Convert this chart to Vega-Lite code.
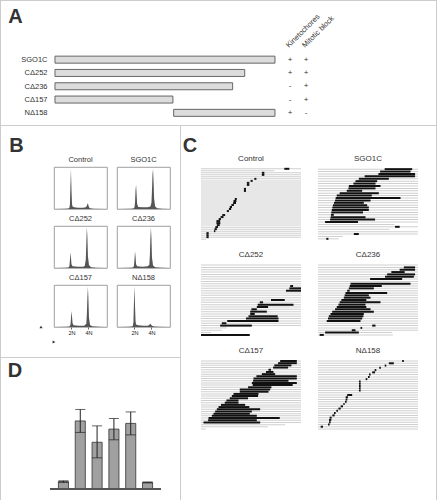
{
"$schema": "https://vega.github.io/schema/vega-lite/v6.json",
"padding": 0,
"background": "white",
"spacing": 0,
"config": {
 "font": "Liberation Sans",
 "view": {"stroke": null},
 "axis": {"labelColor": "#222", "titleColor": "#333", "domainColor": "#999", "tickColor": "#999", "labelFont": "Liberation Sans", "titleFont": "Liberation Sans", "titleFontWeight": "normal", "grid": false, "labelOverlap": false, "labelSeparation": 0, "labelFlush": false, "labelBound": false},
 "title": {"font": "Liberation Sans", "color": "#333", "fontWeight": "normal", "fontSize": 8}
},
"datasets": {
 "constructs": [
  {"construct": "SGO1C", "from": 1, "to": 292},
  {"construct": "CΔ252", "from": 1, "to": 252},
  {"construct": "CΔ236", "from": 1, "to": 236},
  {"construct": "CΔ157", "from": 1, "to": 157},
  {"construct": "NΔ158", "from": 158, "to": 292}
 ],
 "signs": [
  {"construct": "SGO1C", "assay": "Kinetochores", "result": "+"},
  {"construct": "SGO1C", "assay": "Mitotic block", "result": "+"},
  {"construct": "CΔ252", "assay": "Kinetochores", "result": "+"},
  {"construct": "CΔ252", "assay": "Mitotic block", "result": "+"},
  {"construct": "CΔ236", "assay": "Kinetochores", "result": "-"},
  {"construct": "CΔ236", "assay": "Mitotic block", "result": "+"},
  {"construct": "CΔ157", "assay": "Kinetochores", "result": "-"},
  {"construct": "CΔ157", "assay": "Mitotic block", "result": "+"},
  {"construct": "NΔ158", "assay": "Kinetochores", "result": "+"},
  {"construct": "NΔ158", "assay": "Mitotic block", "result": "-"}
 ],
 "mt": [
  {"construct": "-", "mean": 45, "lo": 40, "hi": 50},
  {"construct": "SGO1C", "mean": 415, "lo": 345, "hi": 485},
  {"construct": "CΔ252", "mean": 285, "lo": 190, "hi": 385},
  {"construct": "CΔ236", "mean": 365, "lo": 300, "hi": 430},
  {"construct": "CΔ157", "mean": 400, "lo": 330, "hi": 470},
  {"construct": "NΔ158", "mean": 40, "lo": 37, "hi": 43}
 ],
 "hist": [
  {"sample": "Control", "dna": 0, "count": 0}, {"sample": "Control", "dna": 20, "count": 0.5}, {"sample": "Control", "dna": 27, "count": 1}, {"sample": "Control", "dna": 29, "count": 3}, {"sample": "Control", "dna": 30, "count": 10}, {"sample": "Control", "dna": 31, "count": 55}, {"sample": "Control", "dna": 32, "count": 95}, {"sample": "Control", "dna": 33, "count": 45}, {"sample": "Control", "dna": 34, "count": 12}, {"sample": "Control", "dna": 35, "count": 6}, {"sample": "Control", "dna": 38, "count": 4}, {"sample": "Control", "dna": 45, "count": 3}, {"sample": "Control", "dna": 55, "count": 3}, {"sample": "Control", "dna": 60, "count": 4}, {"sample": "Control", "dna": 62, "count": 8}, {"sample": "Control", "dna": 63, "count": 12}, {"sample": "Control", "dna": 64, "count": 13}, {"sample": "Control", "dna": 65, "count": 9}, {"sample": "Control", "dna": 66, "count": 4}, {"sample": "Control", "dna": 68, "count": 1.5}, {"sample": "Control", "dna": 75, "count": 0.5}, {"sample": "Control", "dna": 100, "count": 0},
  {"sample": "SGO1C", "dna": 0, "count": 0}, {"sample": "SGO1C", "dna": 25, "count": 0.5}, {"sample": "SGO1C", "dna": 31, "count": 1}, {"sample": "SGO1C", "dna": 33, "count": 4}, {"sample": "SGO1C", "dna": 34, "count": 15}, {"sample": "SGO1C", "dna": 35, "count": 45}, {"sample": "SGO1C", "dna": 36, "count": 58}, {"sample": "SGO1C", "dna": 37, "count": 35}, {"sample": "SGO1C", "dna": 38, "count": 12}, {"sample": "SGO1C", "dna": 40, "count": 5}, {"sample": "SGO1C", "dna": 48, "count": 4}, {"sample": "SGO1C", "dna": 58, "count": 4}, {"sample": "SGO1C", "dna": 63, "count": 6}, {"sample": "SGO1C", "dna": 65, "count": 15}, {"sample": "SGO1C", "dna": 66, "count": 45}, {"sample": "SGO1C", "dna": 67, "count": 82}, {"sample": "SGO1C", "dna": 68, "count": 95}, {"sample": "SGO1C", "dna": 69, "count": 65}, {"sample": "SGO1C", "dna": 70, "count": 25}, {"sample": "SGO1C", "dna": 72, "count": 6}, {"sample": "SGO1C", "dna": 76, "count": 1.5}, {"sample": "SGO1C", "dna": 85, "count": 0.5}, {"sample": "SGO1C", "dna": 100, "count": 0},
  {"sample": "CΔ252", "dna": 0, "count": 0}, {"sample": "CΔ252", "dna": 20, "count": 0.5}, {"sample": "CΔ252", "dna": 27, "count": 1}, {"sample": "CΔ252", "dna": 29, "count": 4}, {"sample": "CΔ252", "dna": 30, "count": 18}, {"sample": "CΔ252", "dna": 31, "count": 37}, {"sample": "CΔ252", "dna": 32, "count": 25}, {"sample": "CΔ252", "dna": 33, "count": 9}, {"sample": "CΔ252", "dna": 35, "count": 4}, {"sample": "CΔ252", "dna": 45, "count": 3}, {"sample": "CΔ252", "dna": 55, "count": 3}, {"sample": "CΔ252", "dna": 58, "count": 5}, {"sample": "CΔ252", "dna": 60, "count": 20}, {"sample": "CΔ252", "dna": 61, "count": 60}, {"sample": "CΔ252", "dna": 62, "count": 97}, {"sample": "CΔ252", "dna": 63, "count": 75}, {"sample": "CΔ252", "dna": 64, "count": 28}, {"sample": "CΔ252", "dna": 66, "count": 7}, {"sample": "CΔ252", "dna": 70, "count": 2}, {"sample": "CΔ252", "dna": 80, "count": 0.5}, {"sample": "CΔ252", "dna": 100, "count": 0},
  {"sample": "CΔ236", "dna": 0, "count": 0}, {"sample": "CΔ236", "dna": 22, "count": 0.5}, {"sample": "CΔ236", "dna": 30, "count": 1}, {"sample": "CΔ236", "dna": 32, "count": 5}, {"sample": "CΔ236", "dna": 33, "count": 20}, {"sample": "CΔ236", "dna": 34, "count": 40}, {"sample": "CΔ236", "dna": 35, "count": 27}, {"sample": "CΔ236", "dna": 36, "count": 9}, {"sample": "CΔ236", "dna": 38, "count": 4}, {"sample": "CΔ236", "dna": 48, "count": 3}, {"sample": "CΔ236", "dna": 58, "count": 4}, {"sample": "CΔ236", "dna": 61, "count": 8}, {"sample": "CΔ236", "dna": 62, "count": 30}, {"sample": "CΔ236", "dna": 63, "count": 70}, {"sample": "CΔ236", "dna": 64, "count": 97}, {"sample": "CΔ236", "dna": 65, "count": 70}, {"sample": "CΔ236", "dna": 66, "count": 25}, {"sample": "CΔ236", "dna": 68, "count": 6}, {"sample": "CΔ236", "dna": 72, "count": 1.5}, {"sample": "CΔ236", "dna": 85, "count": 0.5}, {"sample": "CΔ236", "dna": 100, "count": 0},
  {"sample": "CΔ157", "dna": 0, "count": 0}, {"sample": "CΔ157", "dna": 22, "count": 0.5}, {"sample": "CΔ157", "dna": 29, "count": 1}, {"sample": "CΔ157", "dna": 31, "count": 5}, {"sample": "CΔ157", "dna": 32, "count": 20}, {"sample": "CΔ157", "dna": 33, "count": 38}, {"sample": "CΔ157", "dna": 34, "count": 25}, {"sample": "CΔ157", "dna": 35, "count": 9}, {"sample": "CΔ157", "dna": 37, "count": 4}, {"sample": "CΔ157", "dna": 47, "count": 3}, {"sample": "CΔ157", "dna": 57, "count": 3}, {"sample": "CΔ157", "dna": 61, "count": 8}, {"sample": "CΔ157", "dna": 62, "count": 30}, {"sample": "CΔ157", "dna": 63, "count": 70}, {"sample": "CΔ157", "dna": 64, "count": 96}, {"sample": "CΔ157", "dna": 65, "count": 65}, {"sample": "CΔ157", "dna": 66, "count": 22}, {"sample": "CΔ157", "dna": 68, "count": 5}, {"sample": "CΔ157", "dna": 72, "count": 1.5}, {"sample": "CΔ157", "dna": 85, "count": 0.5}, {"sample": "CΔ157", "dna": 100, "count": 0},
  {"sample": "NΔ158", "dna": 0, "count": 0}, {"sample": "NΔ158", "dna": 20, "count": 0.5}, {"sample": "NΔ158", "dna": 28, "count": 1}, {"sample": "NΔ158", "dna": 30, "count": 3}, {"sample": "NΔ158", "dna": 31, "count": 12}, {"sample": "NΔ158", "dna": 32, "count": 60}, {"sample": "NΔ158", "dna": 33, "count": 97}, {"sample": "NΔ158", "dna": 34, "count": 50}, {"sample": "NΔ158", "dna": 35, "count": 14}, {"sample": "NΔ158", "dna": 36, "count": 6}, {"sample": "NΔ158", "dna": 40, "count": 4}, {"sample": "NΔ158", "dna": 50, "count": 3}, {"sample": "NΔ158", "dna": 58, "count": 3}, {"sample": "NΔ158", "dna": 61, "count": 5}, {"sample": "NΔ158", "dna": 62, "count": 7}, {"sample": "NΔ158", "dna": 63, "count": 8}, {"sample": "NΔ158", "dna": 64, "count": 6}, {"sample": "NΔ158", "dna": 66, "count": 3}, {"sample": "NΔ158", "dna": 70, "count": 1}, {"sample": "NΔ158", "dna": 80, "count": 0.5}, {"sample": "NΔ158", "dna": 100, "count": 0}
 ],
 "c_control": [
  {"cell": 1, "obs": 1200, "start": 1000, "end": 1060}, {"cell": 2, "obs": 880}, {"cell": 3, "obs": 1200, "start": 730, "end": 760}, {"cell": 4, "obs": 1200, "start": 730, "end": 760}, {"cell": 5, "obs": 1200}, {"cell": 6, "obs": 1200, "start": 640, "end": 665}, {"cell": 7, "obs": 1200, "start": 595, "end": 620}, {"cell": 8, "obs": 1200, "start": 550, "end": 580}, {"cell": 9, "obs": 1200, "start": 550, "end": 580}, {"cell": 10, "obs": 1200}, {"cell": 11, "obs": 1200, "start": 515, "end": 540}, {"cell": 12, "obs": 1200, "start": 515, "end": 540}, {"cell": 13, "obs": 1200}, {"cell": 14, "obs": 1200}, {"cell": 15, "obs": 1200}, {"cell": 16, "obs": 1200, "start": 405, "end": 430}, {"cell": 17, "obs": 1200, "start": 390, "end": 425}, {"cell": 18, "obs": 1200, "start": 385, "end": 420}, {"cell": 19, "obs": 1200, "start": 365, "end": 395}, {"cell": 20, "obs": 1200, "start": 345, "end": 372}, {"cell": 21, "obs": 1200, "start": 335, "end": 362}, {"cell": 22, "obs": 1200, "start": 310, "end": 335}, {"cell": 23, "obs": 1200}, {"cell": 24, "obs": 1200, "start": 255, "end": 290}, {"cell": 25, "obs": 1200, "start": 235, "end": 270}, {"cell": 26, "obs": 1200, "start": 212, "end": 240}, {"cell": 27, "obs": 1200, "start": 185, "end": 230}, {"cell": 28, "obs": 1200, "start": 185, "end": 232}, {"cell": 29, "obs": 1200, "start": 190, "end": 225}, {"cell": 30, "obs": 1200, "start": 172, "end": 204}, {"cell": 31, "obs": 1200, "start": 162, "end": 190}, {"cell": 32, "obs": 1200, "start": 155, "end": 172}, {"cell": 33, "obs": 1200, "start": 65, "end": 92}, {"cell": 34, "obs": 1200, "start": 65, "end": 92}, {"cell": 35, "obs": 1200, "start": 65, "end": 92}, {"cell": 36, "obs": 60}
 ],
 "c_sgo1c": [
  {"cell": 1, "obs": 1200, "start": 800, "end": 1130}, {"cell": 2, "obs": 1200, "start": 745, "end": 1110}, {"cell": 3, "obs": 1200, "start": 725, "end": 1165}, {"cell": 4, "obs": 1200, "start": 560, "end": 1165}, {"cell": 5, "obs": 1200, "start": 490, "end": 850}, {"cell": 6, "obs": 1200, "start": 450, "end": 710}, {"cell": 7, "obs": 1200, "start": 425, "end": 690}, {"cell": 8, "obs": 1200, "start": 370, "end": 750}, {"cell": 9, "obs": 1200, "start": 365, "end": 690}, {"cell": 10, "obs": 1200, "start": 345, "end": 530}, {"cell": 11, "obs": 1200, "start": 260, "end": 730}, {"cell": 12, "obs": 1200, "start": 225, "end": 645}, {"cell": 13, "obs": 1200, "start": 212, "end": 990}, {"cell": 14, "obs": 1200, "start": 205, "end": 630}, {"cell": 15, "obs": 1200, "start": 192, "end": 550}, {"cell": 16, "obs": 1200, "start": 180, "end": 590}, {"cell": 17, "obs": 1200, "start": 172, "end": 610}, {"cell": 18, "obs": 1200, "start": 165, "end": 610}, {"cell": 19, "obs": 1200, "start": 160, "end": 540}, {"cell": 20, "obs": 1200, "start": 155, "end": 190}, {"cell": 21, "obs": 1200, "start": 152, "end": 570}, {"cell": 22, "obs": 1200, "start": 145, "end": 685}, {"cell": 23, "obs": 1200, "start": 85, "end": 480}, {"cell": 24, "obs": 915}, {"cell": 25, "obs": 1200, "start": 925, "end": 980}, {"cell": 26, "obs": 860}, {"cell": 27, "obs": 1200}, {"cell": 28, "obs": 1200, "start": 430, "end": 490}, {"cell": 29, "obs": 300}, {"cell": 30, "obs": 250, "start": 100, "end": 125}
 ],
 "c_252": [
  {"cell": 1, "obs": 1200}, {"cell": 2, "obs": 1200}, {"cell": 3, "obs": 1200}, {"cell": 4, "obs": 1200}, {"cell": 5, "obs": 1200}, {"cell": 6, "obs": 1200}, {"cell": 7, "obs": 1200}, {"cell": 8, "obs": 1200}, {"cell": 9, "obs": 1200}, {"cell": 10, "obs": 1200, "start": 1070, "end": 1105}, {"cell": 11, "obs": 1200, "start": 1060, "end": 1200}, {"cell": 12, "obs": 1200, "start": 1020, "end": 1200}, {"cell": 13, "obs": 1200}, {"cell": 14, "obs": 1200}, {"cell": 15, "obs": 1200}, {"cell": 16, "obs": 1200, "start": 840, "end": 1005}, {"cell": 17, "obs": 1200, "start": 705, "end": 745}, {"cell": 18, "obs": 1200, "start": 680, "end": 1110}, {"cell": 19, "obs": 1200, "start": 670, "end": 805}, {"cell": 20, "obs": 1200, "start": 605, "end": 670}, {"cell": 21, "obs": 1200, "start": 590, "end": 790}, {"cell": 22, "obs": 1200, "start": 590, "end": 645}, {"cell": 23, "obs": 1200, "start": 570, "end": 920}, {"cell": 24, "obs": 1200, "start": 540, "end": 930}, {"cell": 25, "obs": 1200, "start": 315, "end": 930}, {"cell": 26, "obs": 1200, "start": 250, "end": 305}, {"cell": 27, "obs": 1200, "start": 230, "end": 610}, {"cell": 28, "obs": 310}, {"cell": 29, "obs": 250}, {"cell": 30, "obs": 120}, {"cell": 31, "obs": 590, "start": 0, "end": 585}
 ],
 "c_236": [
  {"cell": 1, "obs": 1200}, {"cell": 2, "obs": 1200, "start": 1030, "end": 1165}, {"cell": 3, "obs": 1200, "start": 980, "end": 1165}, {"cell": 4, "obs": 1200, "start": 880, "end": 1040}, {"cell": 5, "obs": 1200, "start": 830, "end": 1165}, {"cell": 6, "obs": 1200, "start": 805, "end": 1150}, {"cell": 7, "obs": 1200, "start": 625, "end": 1010}, {"cell": 8, "obs": 1200}, {"cell": 9, "obs": 1200, "start": 390, "end": 1110}, {"cell": 10, "obs": 1200, "start": 380, "end": 765}, {"cell": 11, "obs": 1200, "start": 370, "end": 670}, {"cell": 12, "obs": 1200, "start": 350, "end": 380}, {"cell": 13, "obs": 1200, "start": 330, "end": 830}, {"cell": 14, "obs": 1200, "start": 320, "end": 610}, {"cell": 15, "obs": 1200, "start": 310, "end": 630}, {"cell": 16, "obs": 1200, "start": 280, "end": 580}, {"cell": 17, "obs": 1200, "start": 260, "end": 750}, {"cell": 18, "obs": 1200, "start": 245, "end": 570}, {"cell": 19, "obs": 1200, "start": 225, "end": 580}, {"cell": 20, "obs": 1200, "start": 205, "end": 630}, {"cell": 21, "obs": 1200, "start": 170, "end": 670}, {"cell": 22, "obs": 1200, "start": 150, "end": 550}, {"cell": 23, "obs": 1200, "start": 130, "end": 545}, {"cell": 24, "obs": 1200, "start": 120, "end": 530}, {"cell": 25, "obs": 1200, "start": 105, "end": 510}, {"cell": 26, "obs": 1200}, {"cell": 27, "obs": 1200, "start": 650, "end": 690}, {"cell": 28, "obs": 1200, "start": 510, "end": 530}, {"cell": 29, "obs": 1200, "start": 405, "end": 450}, {"cell": 30, "obs": 890, "start": 85, "end": 490}, {"cell": 31, "obs": 900, "start": 20, "end": 70}
 ],
 "c_157": [
  {"cell": 1, "obs": 1200, "start": 950, "end": 1150}, {"cell": 2, "obs": 1200, "start": 925, "end": 1150}, {"cell": 3, "obs": 1200, "start": 880, "end": 1085}, {"cell": 4, "obs": 1200, "start": 865, "end": 1045}, {"cell": 5, "obs": 1200, "start": 810, "end": 840}, {"cell": 6, "obs": 1200, "start": 780, "end": 870}, {"cell": 7, "obs": 1200, "start": 730, "end": 890}, {"cell": 8, "obs": 1200, "start": 665, "end": 1150}, {"cell": 9, "obs": 1200, "start": 630, "end": 1150}, {"cell": 10, "obs": 1200, "start": 625, "end": 1050}, {"cell": 11, "obs": 1200, "start": 610, "end": 1150}, {"cell": 12, "obs": 1200, "start": 620, "end": 1100}, {"cell": 13, "obs": 1200, "start": 565, "end": 845}, {"cell": 14, "obs": 1200, "start": 465, "end": 830}, {"cell": 15, "obs": 1200, "start": 465, "end": 810}, {"cell": 16, "obs": 1200, "start": 390, "end": 690}, {"cell": 17, "obs": 1200, "start": 370, "end": 685}, {"cell": 18, "obs": 1200, "start": 345, "end": 565}, {"cell": 19, "obs": 1200, "start": 305, "end": 450}, {"cell": 20, "obs": 1200, "start": 285, "end": 450}, {"cell": 21, "obs": 1200, "start": 240, "end": 530}, {"cell": 22, "obs": 1200, "start": 210, "end": 580}, {"cell": 23, "obs": 1200, "start": 190, "end": 710}, {"cell": 24, "obs": 1200, "start": 170, "end": 610}, {"cell": 25, "obs": 1200, "start": 150, "end": 585}, {"cell": 26, "obs": 1200, "start": 130, "end": 670}, {"cell": 27, "obs": 1200, "start": 90, "end": 945}, {"cell": 28, "obs": 1200, "start": 85, "end": 670}, {"cell": 29, "obs": 1200, "start": 30, "end": 710}, {"cell": 30, "obs": 1010}, {"cell": 31, "obs": 800}, {"cell": 32, "obs": 60}
 ],
 "c_158": [
  {"cell": 1, "obs": 1200, "start": 1010, "end": 1030}, {"cell": 2, "obs": 1200, "start": 850, "end": 910}, {"cell": 3, "obs": 1200, "start": 800, "end": 820}, {"cell": 4, "obs": 1200, "start": 735, "end": 755}, {"cell": 5, "obs": 1200, "start": 680, "end": 700}, {"cell": 6, "obs": 1200, "start": 650, "end": 685}, {"cell": 7, "obs": 1200, "start": 612, "end": 632}, {"cell": 8, "obs": 1200, "start": 600, "end": 620}, {"cell": 9, "obs": 1200, "start": 572, "end": 592}, {"cell": 10, "obs": 1200, "start": 492, "end": 512}, {"cell": 11, "obs": 1200, "start": 492, "end": 512}, {"cell": 12, "obs": 1200, "start": 492, "end": 512}, {"cell": 13, "obs": 1200, "start": 492, "end": 512}, {"cell": 14, "obs": 1200, "start": 492, "end": 512}, {"cell": 15, "obs": 1200}, {"cell": 16, "obs": 1200, "start": 350, "end": 410}, {"cell": 17, "obs": 1200, "start": 332, "end": 360}, {"cell": 18, "obs": 1200, "start": 332, "end": 352}, {"cell": 19, "obs": 1200, "start": 324, "end": 344}, {"cell": 20, "obs": 1200, "start": 304, "end": 320}, {"cell": 21, "obs": 1200, "start": 272, "end": 300}, {"cell": 22, "obs": 1200, "start": 245, "end": 272}, {"cell": 23, "obs": 1200, "start": 220, "end": 240}, {"cell": 24, "obs": 1200, "start": 192, "end": 212}, {"cell": 25, "obs": 1200, "start": 172, "end": 200}, {"cell": 26, "obs": 1200, "start": 140, "end": 164}, {"cell": 27, "obs": 1200, "start": 132, "end": 160}, {"cell": 28, "obs": 1200, "start": 132, "end": 152}, {"cell": 29, "obs": 1200, "start": 120, "end": 140}, {"cell": 30, "obs": 1200, "start": 32, "end": 60}, {"cell": 31, "obs": 1200}
 ]
},
"hconcat": [
 {"data": {"values": []}, "mark": "point", "width": 1, "height": 500, "view": {"fill": "#cccccc"}},
 {"spacing": 0, "vconcat": [
  {"data": {"values": []}, "mark": "point", "width": 435, "height": 1, "view": {"fill": "#cccccc"}},
  {"columns": 3, "align": "each", "bounds": "flush", "spacing": 0, "concat": [
   {"data": {"values": [{"panel": "A"}]}, "width": 29, "height": 31.4, "mark": {"type": "text", "fontSize": 20, "fontWeight": "bold", "color": "#333"}, "encoding": {"text": {"field": "panel"}}},
   {"data": {"values": []}, "mark": "point", "width": 32, "height": 52},
   {"data": {"values": []}, "mark": "point", "width": 122, "height": 1},
   {"data": {"name": "constructs"}, "width": 281, "height": 66.5,
    "mark": {"type": "bar", "height": 7, "fill": "#dcdcdc", "stroke": "#666", "strokeWidth": 1},
    "encoding": {
     "x": {"field": "from", "type": "quantitative", "scale": {"domain": [-70.4, 301.3], "nice": false, "zero": false}, "axis": null},
     "x2": {"field": "to"},
     "y": {"field": "construct", "type": "nominal", "sort": null, "scale": {"type": "point", "domain": ["SGO1C", "CΔ252", "CΔ236", "CΔ157", "NΔ158"], "padding": 0.5}, "axis": {"orient": "left", "offset": -49, "domain": false, "ticks": false, "title": null, "labelFontSize": 7.5, "labelPadding": 3, "labelColor": "#333"}}
    }},
   {"data": {"name": "signs"}, "width": 32, "height": 66.5,
    "mark": {"type": "text", "fontSize": 8, "color": "#333"},
    "encoding": {
     "x": {"field": "assay", "type": "nominal", "scale": {"type": "point", "domain": ["Kinetochores", "Mitotic block"], "padding": 0.5}, "axis": {"orient": "top", "labelAngle": -45, "domain": false, "ticks": false, "title": null, "labelFontSize": 7.5, "labelPadding": 4, "labelColor": "#333"}},
     "y": {"field": "construct", "type": "nominal", "sort": null, "scale": {"type": "point", "domain": ["SGO1C", "CΔ252", "CΔ236", "CΔ157", "NΔ158"], "padding": 0.5}, "axis": null},
     "text": {"field": "result"}
    }},
   {"data": {"values": []}, "mark": "point", "width": 1, "height": 1},
   {"data": {"values": []}, "mark": "point", "width": 1, "height": 4.5},
   {"data": {"values": []}, "mark": "point", "width": 1, "height": 1},
   {"data": {"values": []}, "mark": "point", "width": 1, "height": 1}
  ]},
  {"data": {"values": []}, "mark": "point", "width": 435, "height": 1, "view": {"fill": "#cccccc"}},
  {"spacing": 0, "hconcat": [
   {"spacing": 0, "vconcat": [
    {"columns": 6, "align": "each", "bounds": "flush", "spacing": 0, "concat": [
     {"data": {"values": [{"panel": "B"}]}, "width": 31, "height": 40, "mark": {"type": "text", "fontSize": 20, "fontWeight": "bold", "color": "#333"}, "encoding": {"text": {"field": "panel"}}},
     {"data": {"values": []}, "mark": "point", "width": 13, "height": 41},
     {"data": {"values": []}, "mark": "point", "width": 53, "height": 1},
     {"data": {"values": []}, "mark": "point", "width": 10, "height": 1},
     {"data": {"values": []}, "mark": "point", "width": 53, "height": 1},
     {"data": {"values": []}, "mark": "point", "width": 10, "height": 1},

     {"data": {"values": []}, "mark": "point", "width": 40, "height": 42},
     {"data": {"values": []}, "mark": "point", "width": 1, "height": 1},
     {"data": {"name": "hist"}, "transform": [{"filter": "datum.sample === 'Control'"}], "width": 53, "height": 42, "title": {"text": "Control", "fontSize": 7.5, "offset": 4}, "view": {"stroke": "#888", "strokeWidth": 0.8}, "mark": {"type": "area", "color": "#555"}, "encoding": {"x": {"field": "dna", "type": "quantitative", "scale": {"domain": [0, 100], "nice": false}, "axis": null}, "y": {"field": "count", "type": "quantitative", "scale": {"domain": [0, 100], "nice": false}, "axis": null}}},
     {"data": {"values": []}, "mark": "point", "width": 1, "height": 1},
     {"data": {"name": "hist"}, "transform": [{"filter": "datum.sample === 'SGO1C'"}], "width": 53, "height": 42, "title": {"text": "SGO1C", "fontSize": 7.5, "offset": 4}, "view": {"stroke": "#888", "strokeWidth": 0.8}, "mark": {"type": "area", "color": "#555"}, "encoding": {"x": {"field": "dna", "type": "quantitative", "scale": {"domain": [0, 100], "nice": false}, "axis": null}, "y": {"field": "count", "type": "quantitative", "scale": {"domain": [0, 100], "nice": false}, "axis": null}}},
     {"data": {"values": []}, "mark": "point", "width": 1, "height": 1},

     {"data": {"values": []}, "mark": "point", "width": 1, "height": 17},
     {"data": {"values": []}, "mark": "point", "width": 1, "height": 1},
     {"data": {"values": []}, "mark": "point", "width": 1, "height": 1},
     {"data": {"values": []}, "mark": "point", "width": 1, "height": 1},
     {"data": {"values": []}, "mark": "point", "width": 1, "height": 1},
     {"data": {"values": []}, "mark": "point", "width": 1, "height": 1},

     {"data": {"values": []}, "mark": "point", "width": 1, "height": 42},
     {"data": {"values": []}, "mark": "point", "width": 1, "height": 1},
     {"data": {"name": "hist"}, "transform": [{"filter": "datum.sample === 'CΔ252'"}], "width": 53, "height": 42, "title": {"text": "CΔ252", "fontSize": 7.5, "offset": 4}, "view": {"stroke": "#888", "strokeWidth": 0.8}, "mark": {"type": "area", "color": "#555"}, "encoding": {"x": {"field": "dna", "type": "quantitative", "scale": {"domain": [0, 100], "nice": false}, "axis": null}, "y": {"field": "count", "type": "quantitative", "scale": {"domain": [0, 100], "nice": false}, "axis": null}}},
     {"data": {"values": []}, "mark": "point", "width": 1, "height": 1},
     {"data": {"name": "hist"}, "transform": [{"filter": "datum.sample === 'CΔ236'"}], "width": 53, "height": 42, "title": {"text": "CΔ236", "fontSize": 7.5, "offset": 4}, "view": {"stroke": "#888", "strokeWidth": 0.8}, "mark": {"type": "area", "color": "#555"}, "encoding": {"x": {"field": "dna", "type": "quantitative", "scale": {"domain": [0, 100], "nice": false}, "axis": null}, "y": {"field": "count", "type": "quantitative", "scale": {"domain": [0, 100], "nice": false}, "axis": null}}},
     {"data": {"values": []}, "mark": "point", "width": 1, "height": 1},

     {"data": {"values": []}, "mark": "point", "width": 1, "height": 17},
     {"data": {"values": []}, "mark": "point", "width": 1, "height": 1},
     {"data": {"values": []}, "mark": "point", "width": 1, "height": 1},
     {"data": {"values": []}, "mark": "point", "width": 1, "height": 1},
     {"data": {"values": []}, "mark": "point", "width": 1, "height": 1},
     {"data": {"values": []}, "mark": "point", "width": 1, "height": 1},

     {"data": {"values": []}, "mark": "point", "width": 1, "height": 42},
     {"data": {"values": []}, "mark": "point", "width": 1, "height": 1},
     {"data": {"name": "hist"}, "transform": [{"filter": "datum.sample === 'CΔ157'"}], "width": 53, "height": 42, "title": {"text": "CΔ157", "fontSize": 7.5, "offset": 4}, "view": {"stroke": "#888", "strokeWidth": 0.8}, "mark": {"type": "area", "color": "#555"}, "encoding": {"x": {"field": "dna", "type": "quantitative", "scale": {"domain": [0, 100], "nice": false}, "axis": {"values": [33, 65], "labelExpr": "datum.value < 50 ? '2N' : '4N'", "domain": false, "tickSize": 2, "tickColor": "#666", "labelFontSize": 5.5, "labelPadding": 1, "title": null}}, "y": {"field": "count", "type": "quantitative", "scale": {"domain": [0, 100], "nice": false}, "axis": null}}},
     {"data": {"values": []}, "mark": "point", "width": 1, "height": 1},
     {"data": {"name": "hist"}, "transform": [{"filter": "datum.sample === 'NΔ158'"}], "width": 53, "height": 42, "title": {"text": "NΔ158", "fontSize": 7.5, "offset": 4}, "view": {"stroke": "#888", "strokeWidth": 0.8}, "mark": {"type": "area", "color": "#555"}, "encoding": {"x": {"field": "dna", "type": "quantitative", "scale": {"domain": [0, 100], "nice": false}, "axis": {"values": [33, 65], "labelExpr": "datum.value < 50 ? '2N' : '4N'", "domain": false, "tickSize": 2, "tickColor": "#666", "labelFontSize": 5.5, "labelPadding": 1, "title": null}}, "y": {"field": "count", "type": "quantitative", "scale": {"domain": [0, 100], "nice": false}, "axis": null}}},
     {"data": {"values": []}, "mark": "point", "width": 1, "height": 1},

     {"data": {"values": []}, "mark": "point", "width": 1, "height": 15},
     {"width": 13, "height": 15,
      "layer": [
       {"data": {"values": []}, "mark": "point",
        "encoding": {
         "x": {"field": "a", "type": "quantitative", "scale": {"domain": [0, 1]}, "axis": {"orient": "bottom", "domainColor": "#333", "ticks": false, "labels": false, "title": "DNA", "titleFontSize": 6, "titlePadding": 3}},
         "y": {"field": "b", "type": "quantitative", "scale": {"domain": [0, 1]}, "axis": {"domainColor": "#333", "ticks": false, "labels": false, "title": "Cell", "titleFontSize": 6, "titlePadding": 3}}
        }},
       {"data": {"values": [{"head": "Cell"}]}, "mark": {"type": "point", "shape": "triangle-up", "size": 10, "filled": true, "color": "#333", "opacity": 1},
        "encoding": {"x": {"datum": 0, "type": "quantitative", "axis": null}, "y": {"datum": 1, "type": "quantitative", "axis": null}}},
       {"data": {"values": [{"head": "DNA"}]}, "mark": {"type": "point", "shape": "triangle-right", "size": 10, "filled": true, "color": "#333", "opacity": 1},
        "encoding": {"x": {"datum": 1, "type": "quantitative", "axis": null}, "y": {"datum": 0, "type": "quantitative", "axis": null}}}
      ]},
     {"data": {"values": []}, "mark": "point", "width": 1, "height": 1},
     {"data": {"values": []}, "mark": "point", "width": 1, "height": 1},
     {"data": {"values": []}, "mark": "point", "width": 1, "height": 1},
     {"data": {"values": []}, "mark": "point", "width": 1, "height": 1},

     {"data": {"values": []}, "mark": "point", "width": 1, "height": 15},
     {"data": {"values": []}, "mark": "point", "width": 1, "height": 1},
     {"data": {"values": []}, "mark": "point", "width": 1, "height": 1},
     {"data": {"values": []}, "mark": "point", "width": 1, "height": 1},
     {"data": {"values": []}, "mark": "point", "width": 1, "height": 1},
     {"data": {"values": []}, "mark": "point", "width": 1, "height": 1}
    ]},
    {"data": {"values": []}, "mark": "point", "width": 179, "height": 1, "view": {"fill": "#cccccc"}},
    {"columns": 3, "align": "each", "bounds": "flush", "spacing": 0, "concat": [
     {"data": {"values": [{"panel": "D"}]}, "width": 28, "height": 26, "mark": {"type": "text", "fontSize": 20, "fontWeight": "bold", "color": "#333"}, "encoding": {"text": {"field": "panel"}}},
     {"data": {"values": []}, "mark": "point", "width": 111, "height": 49},
     {"data": {"values": []}, "mark": "point", "width": 19, "height": 1},
     {"data": {"values": []}, "mark": "point", "width": 49, "height": 82},
     {"data": {"name": "mt"}, "width": 111, "height": 82,
      "layer": [
       {"mark": {"type": "bar", "fill": "#a0a0a0", "stroke": "#333", "strokeWidth": 0.8},
        "encoding": {
         "x": {"field": "construct", "type": "nominal", "scale": {"domain": ["-", "SGO1C", "CΔ252", "CΔ236", "CΔ157", "NΔ158"], "paddingInner": 0.4, "paddingOuter": 0.5}, "axis": {"orient": "top", "labelAngle": -50, "domain": false, "ticks": false, "title": null, "labelFontSize": 7, "labelPadding": 5, "labelColor": "#333"}},
         "y": {"field": "mean", "type": "quantitative", "scale": {"domain": [0, 500], "nice": false}, "axis": {"values": [0, 100, 200, 300, 400, 500], "labelOverlap": false, "labelBound": false, "labelFlush": false, "tickSize": 3, "labelFontSize": 7, "labelPadding": 1, "title": "Mitotic time (min)", "titleFontSize": 6.5, "titlePadding": 1, "domainColor": "#555", "tickColor": "#555"}}
        }},
       {"mark": {"type": "errorbar", "ticks": true, "color": "#222"},
        "encoding": {
         "x": {"field": "construct", "type": "nominal", "axis": null},
         "y": {"field": "lo", "type": "quantitative", "axis": null},
         "y2": {"field": "hi"}
        }},
       {"mark": {"type": "rule", "color": "#555"}, "encoding": {"y": {"datum": 0, "type": "quantitative", "axis": null}}}
      ]},
     {"data": {"values": []}, "mark": "point", "width": 1, "height": 1},
     {"data": {"values": []}, "mark": "point", "width": 1, "height": 11},
     {"data": {"values": []}, "mark": "point", "width": 1, "height": 1},
     {"data": {"values": []}, "mark": "point", "width": 1, "height": 1}
    ]}
   ]},
   {"data": {"values": []}, "mark": "point", "width": 1, "height": 374, "view": {"fill": "#cccccc"}},
   {"columns": 5, "align": "each", "bounds": "flush", "spacing": 0, "concat": [
    {"data": {"values": [{"panel": "C"}]}, "width": 18, "height": 40, "mark": {"type": "text", "fontSize": 20, "fontWeight": "bold", "color": "#333"}, "encoding": {"text": {"field": "panel"}}},
    {"data": {"values": []}, "mark": "point", "width": 100, "height": 41},
    {"data": {"values": []}, "mark": "point", "width": 17, "height": 1},
    {"data": {"values": []}, "mark": "point", "width": 100, "height": 1},
    {"data": {"values": []}, "mark": "point", "width": 18, "height": 1},

    {"data": {"values": []}, "mark": "point", "width": 1, "height": 1},
    {"data": {"name": "c_control"}, "width": 100, "height": 74, "title": {"text": "Control", "fontSize": 8, "offset": 4},
     "layer": [
      {"mark": {"type": "bar", "height": 1, "color": "#cfcfcf"}, "encoding": {"x": {"field": "obs", "type": "quantitative", "scale": {"domain": [0, 1200], "nice": false}, "axis": {"labels": false, "ticks": false, "title": null, "domainColor": "#aaa"}}, "y": {"field": "cell", "type": "ordinal", "scale": {"paddingInner": 0, "paddingOuter": 0.4}, "axis": {"labels": false, "ticks": false, "title": null, "domainColor": "#aaa"}}}},
      {"transform": [{"filter": "datum.start != null"}], "mark": {"type": "bar", "height": 2, "color": "#111"}, "encoding": {"x": {"field": "start", "type": "quantitative", "axis": null}, "x2": {"field": "end"}, "y": {"field": "cell", "type": "ordinal", "axis": null}}}
     ]},
    {"data": {"values": []}, "mark": "point", "width": 1, "height": 1},
    {"data": {"name": "c_sgo1c"}, "width": 100, "height": 74, "title": {"text": "SGO1C", "fontSize": 8, "offset": 4},
     "layer": [
      {"mark": {"type": "bar", "height": 1, "color": "#cfcfcf"}, "encoding": {"x": {"field": "obs", "type": "quantitative", "scale": {"domain": [0, 1200], "nice": false}, "axis": {"labels": false, "ticks": false, "title": null, "domainColor": "#aaa"}}, "y": {"field": "cell", "type": "ordinal", "scale": {"paddingInner": 0, "paddingOuter": 0.4}, "axis": {"labels": false, "ticks": false, "title": null, "domainColor": "#aaa"}}}},
      {"transform": [{"filter": "datum.start != null"}], "mark": {"type": "bar", "height": 2, "color": "#111"}, "encoding": {"x": {"field": "start", "type": "quantitative", "axis": null}, "x2": {"field": "end"}, "y": {"field": "cell", "type": "ordinal", "axis": null}}}
     ]},
    {"data": {"values": []}, "mark": "point", "width": 1, "height": 1},

    {"data": {"values": []}, "mark": "point", "width": 20, "height": 22},
    {"data": {"values": []}, "mark": "point", "width": 1, "height": 1},
    {"data": {"values": []}, "mark": "point", "width": 1, "height": 1},
    {"data": {"values": []}, "mark": "point", "width": 1, "height": 1},
    {"data": {"values": []}, "mark": "point", "width": 1, "height": 1},

    {"data": {"values": []}, "mark": "point", "width": 1, "height": 1},
    {"data": {"name": "c_252"}, "width": 100, "height": 74, "title": {"text": "CΔ252", "fontSize": 8, "offset": 4},
     "layer": [
      {"mark": {"type": "bar", "height": 1, "color": "#cfcfcf"}, "encoding": {"x": {"field": "obs", "type": "quantitative", "scale": {"domain": [0, 1200], "nice": false}, "axis": {"labels": false, "ticks": false, "title": null, "domainColor": "#aaa"}}, "y": {"field": "cell", "type": "ordinal", "scale": {"paddingInner": 0, "paddingOuter": 0.4}, "axis": {"labels": false, "ticks": false, "title": null, "domainColor": "#aaa"}}}},
      {"transform": [{"filter": "datum.start != null"}], "mark": {"type": "bar", "height": 2, "color": "#111"}, "encoding": {"x": {"field": "start", "type": "quantitative", "axis": null}, "x2": {"field": "end"}, "y": {"field": "cell", "type": "ordinal", "axis": null}}}
     ]},
    {"data": {"values": []}, "mark": "point", "width": 1, "height": 1},
    {"data": {"name": "c_236"}, "width": 100, "height": 74, "title": {"text": "CΔ236", "fontSize": 8, "offset": 4},
     "layer": [
      {"mark": {"type": "bar", "height": 1, "color": "#cfcfcf"}, "encoding": {"x": {"field": "obs", "type": "quantitative", "scale": {"domain": [0, 1200], "nice": false}, "axis": {"labels": false, "ticks": false, "title": null, "domainColor": "#aaa"}}, "y": {"field": "cell", "type": "ordinal", "scale": {"paddingInner": 0, "paddingOuter": 0.4}, "axis": {"labels": false, "ticks": false, "title": null, "domainColor": "#aaa"}}}},
      {"transform": [{"filter": "datum.start != null"}], "mark": {"type": "bar", "height": 2, "color": "#111"}, "encoding": {"x": {"field": "start", "type": "quantitative", "axis": null}, "x2": {"field": "end"}, "y": {"field": "cell", "type": "ordinal", "axis": null}}}
     ]},
    {"data": {"values": []}, "mark": "point", "width": 1, "height": 1},

    {"data": {"values": []}, "mark": "point", "width": 1, "height": 22},
    {"data": {"values": []}, "mark": "point", "width": 1, "height": 1},
    {"data": {"values": []}, "mark": "point", "width": 1, "height": 1},
    {"data": {"values": []}, "mark": "point", "width": 1, "height": 1},
    {"data": {"values": []}, "mark": "point", "width": 1, "height": 1},

    {"data": {"values": []}, "mark": "point", "width": 1, "height": 1},
    {"data": {"name": "c_157"}, "width": 100, "height": 72, "title": {"text": "CΔ157", "fontSize": 8, "offset": 4},
     "layer": [
      {"mark": {"type": "bar", "height": 1, "color": "#cfcfcf"}, "encoding": {"x": {"field": "obs", "type": "quantitative", "scale": {"domain": [0, 1200], "nice": false}, "axis": {"values": [0, 200, 400, 600, 800, 1000, 1200], "format": "d", "labelOverlap": false, "labelBound": false, "labelFlush": false, "tickSize": 2, "labelFontSize": 6, "labelPadding": 1, "title": "Time (min)", "titleFontSize": 6.5, "titlePadding": 2, "domainColor": "#aaa"}}, "y": {"field": "cell", "type": "ordinal", "scale": {"paddingInner": 0, "paddingOuter": 0.4}, "axis": {"labels": false, "ticks": false, "title": null, "domainColor": "#aaa"}}}},
      {"transform": [{"filter": "datum.start != null"}], "mark": {"type": "bar", "height": 2, "color": "#111"}, "encoding": {"x": {"field": "start", "type": "quantitative", "axis": null}, "x2": {"field": "end"}, "y": {"field": "cell", "type": "ordinal", "axis": null}}}
     ]},
    {"data": {"values": []}, "mark": "point", "width": 1, "height": 1},
    {"data": {"name": "c_158"}, "width": 100, "height": 72, "title": {"text": "NΔ158", "fontSize": 8, "offset": 4},
     "layer": [
      {"mark": {"type": "bar", "height": 1, "color": "#cfcfcf"}, "encoding": {"x": {"field": "obs", "type": "quantitative", "scale": {"domain": [0, 1200], "nice": false}, "axis": {"values": [0, 200, 400, 600, 800, 1000, 1200], "format": "d", "labelOverlap": false, "labelBound": false, "labelFlush": false, "tickSize": 2, "labelFontSize": 6, "labelPadding": 1, "title": "Time (min)", "titleFontSize": 6.5, "titlePadding": 2, "domainColor": "#aaa"}}, "y": {"field": "cell", "type": "ordinal", "scale": {"paddingInner": 0, "paddingOuter": 0.4}, "axis": {"labels": false, "ticks": false, "title": null, "domainColor": "#aaa"}}}},
      {"transform": [{"filter": "datum.start != null"}], "mark": {"type": "bar", "height": 2, "color": "#111"}, "encoding": {"x": {"field": "start", "type": "quantitative", "axis": null}, "x2": {"field": "end"}, "y": {"field": "cell", "type": "ordinal", "axis": null}}}
     ]},
    {"data": {"values": []}, "mark": "point", "width": 1, "height": 1},

    {"data": {"values": []}, "mark": "point", "width": 1, "height": 69},
    {"data": {"values": []}, "mark": "point", "width": 1, "height": 1},
    {"data": {"values": []}, "mark": "point", "width": 1, "height": 1},
    {"data": {"values": []}, "mark": "point", "width": 1, "height": 1},
    {"data": {"values": []}, "mark": "point", "width": 1, "height": 1}
   ]}
  ]},
  {"data": {"values": []}, "mark": "point", "width": 435, "height": 1, "view": {"fill": "#cccccc"}}
 ]},
 {"data": {"values": []}, "mark": "point", "width": 1, "height": 500, "view": {"fill": "#cccccc"}}
]
}
